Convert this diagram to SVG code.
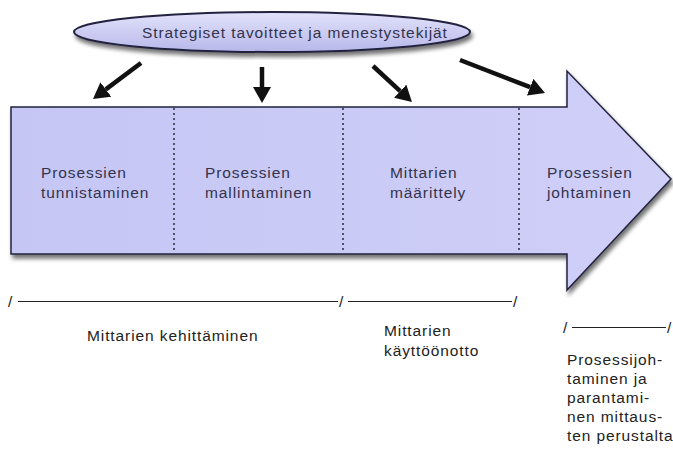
<svg xmlns="http://www.w3.org/2000/svg" width="673" height="451" viewBox="0 0 673 451">
  <defs>
    <linearGradient id="ovalFill" x1="0" y1="0" x2="0" y2="1">
      <stop offset="0" stop-color="#e2e2fb"/>
      <stop offset="1" stop-color="#b8b8ea"/>
    </linearGradient>
    <linearGradient id="bandFill" x1="0" y1="0" x2="1" y2="0">
      <stop offset="0" stop-color="#c6c6f5"/>
      <stop offset="1" stop-color="#cfcff8"/>
    </linearGradient>
    <filter id="shadow" x="-5%" y="-10%" width="115%" height="130%">
      <feGaussianBlur in="SourceAlpha" stdDeviation="2"/>
      <feOffset dx="2" dy="4" result="b"/>
      <feComponentTransfer><feFuncA type="linear" slope="0.55"/></feComponentTransfer>
      <feMerge><feMergeNode/><feMergeNode in="SourceGraphic"/></feMerge>
    </filter>
    <marker id="head" markerUnits="userSpaceOnUse" viewBox="0 0 16 18" markerWidth="16" markerHeight="18" refX="0" refY="9" orient="auto">
      <path d="M0,0 L16,9 L0,18 Z" fill="#111"/>
    </marker>
  </defs>
  <style>
    .lbl { font-family: "Liberation Sans", Arial, sans-serif; font-size: 15.5px; letter-spacing: 0.9px; fill: #33334d; }
    .note { font-family: "Liberation Sans", Arial, sans-serif; font-size: 15.5px; letter-spacing: 0.9px; fill: #222; }
    .divider { stroke: #2a2a40; stroke-width: 1.5; stroke-dasharray: 2 3; }
    .conn { stroke: #111; stroke-width: 4.5; fill: none; marker-end: url(#head); }
    .scale { stroke: #222; stroke-width: 1.2; }
  </style>

  <!-- goal ellipse -->
  <g id="goals">
    <ellipse cx="272" cy="32" rx="198" ry="20" fill="url(#ovalFill)" stroke="#23233f" stroke-width="2" filter="url(#shadow)"/>
    <text class="lbl" x="142" y="38">Strategiset tavoitteet ja menestystekijät</text>
  </g>

  <!-- process band -->
  <g id="band">
    <path d="M11,107 H567 V71 L671,179 L567,290 V254 H11 Z" fill="url(#bandFill)" stroke="#23233f" stroke-width="1.5" stroke-linejoin="miter" filter="url(#shadow)"/>
    <line class="divider" x1="174" y1="108" x2="174" y2="253"/>
    <line class="divider" x1="343" y1="108" x2="343" y2="253"/>
    <line class="divider" x1="519" y1="108" x2="519" y2="253"/>
  </g>

  <g id="stage-identify">
    <text class="lbl" x="41" y="178">Prosessien</text>
    <text class="lbl" x="41" y="198">tunnistaminen</text>
  </g>
  <g id="stage-model">
    <text class="lbl" x="205" y="178">Prosessien</text>
    <text class="lbl" x="205" y="198">mallintaminen</text>
  </g>
  <g id="stage-measures">
    <text class="lbl" x="390" y="178">Mittarien</text>
    <text class="lbl" x="390" y="198">määrittely</text>
  </g>
  <g id="stage-manage">
    <text class="lbl" x="547" y="178">Prosessien</text>
    <text class="lbl" x="547" y="198">johtaminen</text>
  </g>

  <!-- connectors from goals to stages -->
  <g id="connectors">
    <line class="conn" x1="141" y1="63" x2="105.8" y2="89.4"/>
    <line class="conn" x1="262" y1="67" x2="262" y2="87"/>
    <line class="conn" x1="373" y1="66" x2="400.2" y2="91.2"/>
    <line class="conn" x1="460" y1="60" x2="530.1" y2="87.2"/>
  </g>

  <!-- phase scale -->
  <g id="scale">
    <text class="note" x="8" y="307">/</text>
    <line class="scale" x1="18" y1="301.5" x2="338" y2="301.5"/>
    <text class="note" x="339" y="307">/</text>
    <line class="scale" x1="348" y1="301.5" x2="512" y2="301.5"/>
    <text class="note" x="513" y="307">/</text>

    <text class="note" x="563" y="333">/</text>
    <line class="scale" x1="572" y1="327.5" x2="666" y2="327.5"/>
    <text class="note" x="667" y="333">/</text>
  </g>

  <g id="phase-develop">
    <text class="note" x="87" y="341">Mittarien kehittäminen</text>
  </g>
  <g id="phase-deploy">
    <text class="note" x="384" y="336">Mittarien</text>
    <text class="note" x="384" y="356">käyttöönotto</text>
  </g>
  <g id="phase-improve">
    <text class="note" x="567" y="365">Prosessijoh-</text>
    <text class="note" x="567" y="384">taminen ja</text>
    <text class="note" x="567" y="403">parantami-</text>
    <text class="note" x="567" y="422">nen mittaus-</text>
    <text class="note" x="567" y="441">ten perustalta</text>
  </g>
</svg>
